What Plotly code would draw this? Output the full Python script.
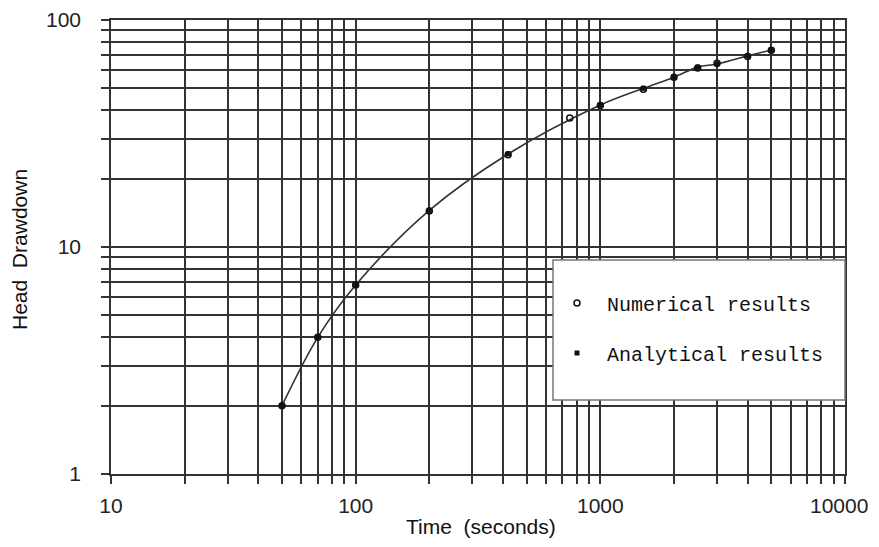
import plotly.graph_objects as go

# Data
num_time = [50, 70, 100, 200, 420, 750, 1000, 1500, 2000, 2500, 3000, 4000, 5000]
num_drawdown = [2.0, 4.0, 6.8, 14.4, 25.5, 37.0, 42.0, 49.5, 56.0, 61.5, 64.5, 69.0, 73.5]
ana_time = [50, 70, 100, 200, 420, 1000, 1500, 2000, 2500, 3000, 4000, 5000]
ana_drawdown = [2.0, 4.0, 6.8, 14.5, 25.7, 42.2, 50.0, 56.0, 62.0, 64.0, 69.5, 73.8]

x_mult = [m for e in range(1, 4) for m in range(1, 10)] + [1]
x_tickvals = [m * 10 ** e for e in range(1, 4) for m in range(1, 10)] + [10000]
x_ticktext = [str(v) if m == 1 else "" for v, m in zip(x_tickvals, x_mult)]
x_ticktext[-1] = "10000\u00a0\u00a0"  # keep the last label inside the page edge
y_mult = [m for e in range(0, 2) for m in range(1, 10)] + [1]
y_tickvals = [m * 10 ** e for e in range(0, 2) for m in range(1, 10)] + [100]
y_ticktext = [str(v) if m == 1 else "" for v, m in zip(y_tickvals, y_mult)]

# page body has an 8px margin; work in figure pixels = screen - 8
OFF = 8
W, H = 879 - 2 * OFF, 547 - 2 * OFF
L, T = 111 - OFF, 20 - OFF
R = W - (845 - OFF)
B = H - (474 - OFF)
PW, PH = W - L - R, H - T - B


def px(x):
    return (x - OFF - L) / PW


def py(y):
    return (H - B - (y - OFF)) / PH


grid = "#333333"
fig = go.Figure()
fig.add_trace(go.Scatter(x=ana_time, y=ana_drawdown, mode="lines",
                         line=dict(color="#333", width=1.6, shape="spline"),
                         showlegend=False, hoverinfo="skip"))
fig.add_trace(go.Scatter(x=num_time, y=num_drawdown, mode="markers", name="Numerical results",
                         legendgroup="a",
                         marker=dict(symbol="circle-open", size=6, color="#111",
                                     line=dict(width=1.5, color="#111"))))
fig.add_trace(go.Scatter(x=ana_time, y=ana_drawdown, mode="markers", name="Analytical results",
                         legendgroup="b",
                         marker=dict(symbol="square", size=5, color="#111")))

fig.add_shape(type="rect", xref="paper", yref="paper",
              x0=px(553), x1=1.0, y0=py(400), y1=py(260),
              fillcolor="white", line=dict(color="#777", width=1.5), layer="above")

axis_common = dict(type="log", showgrid=True, gridcolor=grid, gridwidth=1.5,
                   ticks="outside", ticklen=8, tickcolor=grid, tickwidth=1.5,
                   showline=True, linecolor=grid, linewidth=1.5, mirror=True,
                   zeroline=False, automargin=False, ticklabeloverflow="allow",
                   tickfont=dict(family="Liberation Sans", size=21, color="#222"))

fig.update_layout(
    width=W, height=H,
    margin=dict(l=L, r=R, t=T, b=B),
    paper_bgcolor="white", plot_bgcolor="white",
    xaxis=dict(axis_common, range=[1, 4], tickvals=x_tickvals, ticktext=x_ticktext,
               ticklabelstandoff=4),
    yaxis=dict(axis_common, range=[0, 2], tickvals=y_tickvals, ticktext=y_ticktext,
               ticklabelstandoff=16),
    legend=dict(x=px(547), y=py(283.5), xanchor="left", yanchor="top",
                bgcolor="rgba(0,0,0,0)", borderwidth=0, traceorder="grouped",
                tracegroupgap=21, itemwidth=50,
                font=dict(family="Liberation Mono", size=20, color="#111")),
    annotations=[
        dict(text="Time  (seconds)", xref="paper", yref="paper",
             x=px(481), y=py(526), xanchor="center", yanchor="middle",
             showarrow=False, font=dict(family="Liberation Sans", size=21, color="#111")),
        dict(text="Head  Drawdown", xref="paper", yref="paper", textangle=-90,
             x=px(20), y=py(250), xanchor="center", yanchor="middle",
             showarrow=False, font=dict(family="Liberation Sans", size=21, color="#111")),
    ],
)

fig.write_html("out.html")
